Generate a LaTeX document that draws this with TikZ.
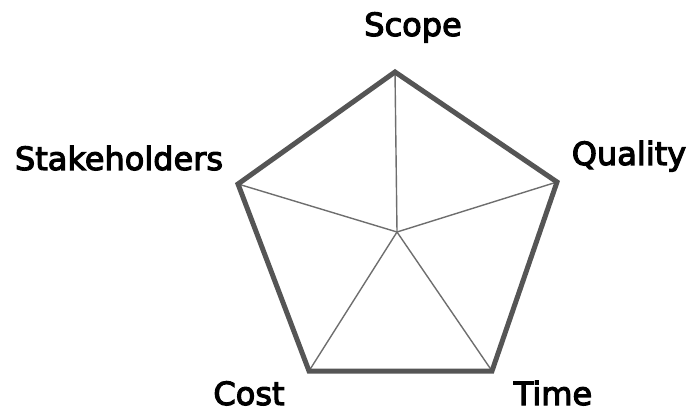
\documentclass[tikz,border=0pt]{standalone}
\usepackage{fontspec}
\setmainfont[FakeBold=3.5]{DejaVu Sans}
\usepackage{xcolor}
\usepackage{tikz}
\usetikzlibrary{positioning, calc}

\definecolor{penline}{HTML}{555555}

\begin{document}
\begin{tikzpicture}[
    x=1pt, y=-1pt,
    rim/.style={draw=penline, line width=5pt, line join=miter},
    spoke/.style={draw=penline!85, line width=1.4pt},
    lbl/.style={font=\fontsize{32}{34}\selectfont, inner sep=0pt, text=black, anchor=base}
]
\useasboundingbox (0,0) rectangle (690,414);

% Corners of the pentagon
\coordinate (top) at (395,72);
\coordinate (right) at (557,182);
\coordinate (botr) at (492,371);
\coordinate (botl) at (309,371);
\coordinate (left) at (238,184);
\coordinate (mid) at (397,232);

% Spokes
\draw[spoke] (mid) -- (top);
\draw[spoke] (mid) -- (right);
\draw[spoke] (mid) -- (botr);
\draw[spoke] (mid) -- (botl);
\draw[spoke] (mid) -- (left);

% Outer pentagon
\draw[rim] (top) -- (right) -- (botr) -- (botl) -- (left) -- cycle;

% Labels
\node[lbl] (scope) at (413,36) {Scope};
\node[lbl] (quality) at (629,165) {Quality};
\node[lbl] (stake) at (119,170) {Stakeholders};
\node[lbl] (cost) at (249,405) {Cost};
\node[lbl] (time) at (553,405) {Time};

\end{tikzpicture}
\end{document}
